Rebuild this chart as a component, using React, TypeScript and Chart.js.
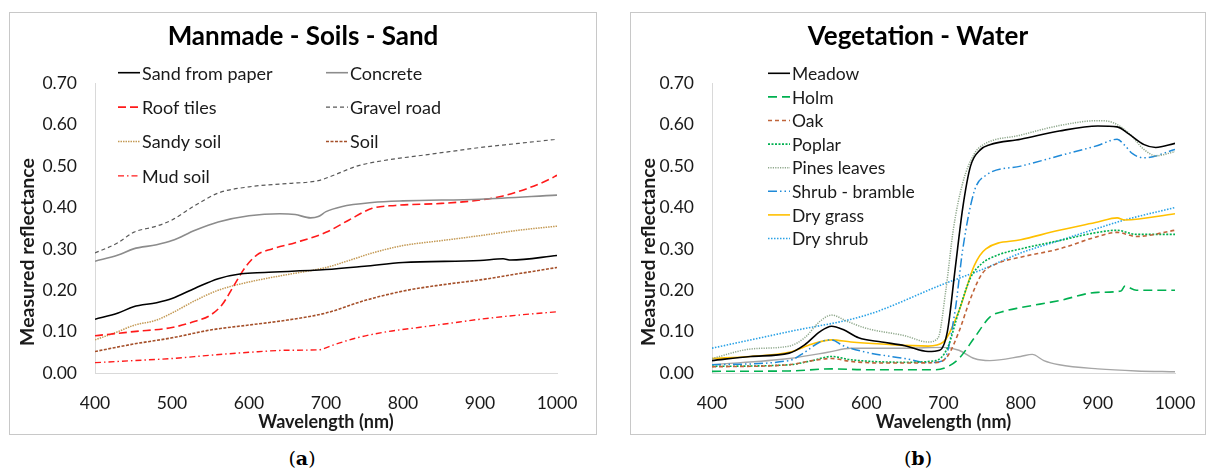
import { useEffect, useRef } from "react";
import { Chart, registerables } from "chart.js";

Chart.register(...registerables);

// ---------- Panel (a): Manmade - Soils - Sand ----------
const sandFromPaperNm = [400, 430, 450, 480, 500, 530, 560, 590, 620, 700, 750, 800, 900, 930, 940, 1000];
const sandFromPaperR = [0.13, 0.145, 0.16, 0.17, 0.18, 0.205, 0.228, 0.24, 0.243, 0.25, 0.258, 0.267, 0.272, 0.276, 0.273, 0.284];

const concreteNm = [400, 430, 450, 480, 500, 530, 560, 600, 640, 660, 680, 690, 700, 720, 760, 800, 900, 1000];
const concreteR = [0.27, 0.285, 0.3, 0.31, 0.32, 0.345, 0.365, 0.38, 0.385, 0.383, 0.375, 0.378, 0.39, 0.402, 0.412, 0.416, 0.42, 0.43];

const roofTilesNm = [400, 450, 500, 530, 550, 565, 580, 595, 610, 630, 660, 700, 730, 760, 790, 850, 900, 930, 960, 990, 1000];
const roofTilesR = [0.09, 0.1, 0.11, 0.125, 0.14, 0.165, 0.21, 0.255, 0.285, 0.3, 0.315, 0.34, 0.37, 0.398, 0.405, 0.41, 0.418, 0.428, 0.445, 0.468, 0.478];

const gravelRoadNm = [400, 430, 450, 480, 500, 530, 560, 600, 650, 690, 710, 740, 780, 820, 860, 900, 950, 1000];
const gravelRoadR = [0.29, 0.315, 0.34, 0.355, 0.37, 0.405, 0.435, 0.45, 0.458, 0.465, 0.478, 0.5, 0.515, 0.525, 0.535, 0.545, 0.555, 0.565];

const sandySoilNm = [400, 430, 450, 480, 500, 530, 560, 600, 650, 700, 730, 760, 800, 850, 900, 950, 1000];
const sandySoilR = [0.08, 0.1, 0.115, 0.128, 0.145, 0.175, 0.2, 0.22, 0.238, 0.255, 0.272, 0.29, 0.308, 0.32, 0.332, 0.345, 0.355];

const soilNm = [400, 450, 500, 550, 600, 650, 700, 750, 800, 850, 900, 950, 1000];
const soilR = [0.052, 0.07, 0.085, 0.104, 0.116, 0.128, 0.145, 0.175, 0.198, 0.213, 0.225, 0.24, 0.255];

const mudSoilNm = [400, 450, 500, 550, 600, 650, 690, 710, 740, 780, 820, 860, 900, 950, 1000];
const mudSoilR = [0.025, 0.03, 0.035, 0.043, 0.05, 0.055, 0.056, 0.068, 0.085, 0.1, 0.11, 0.12, 0.13, 0.14, 0.148];

// ---------- Panel (b): Vegetation - Water ----------
const meadowNm = [400, 450, 500, 520, 540, 555, 570, 590, 620, 650, 680, 695, 705, 715, 725, 735, 748, 760, 800, 850, 900, 925, 940, 960, 975, 1000];
const meadowR = [0.03, 0.04, 0.048, 0.068, 0.1, 0.113, 0.105, 0.085, 0.075, 0.066, 0.052, 0.055, 0.1, 0.25, 0.4, 0.5, 0.54, 0.552, 0.565, 0.585, 0.597, 0.595, 0.578, 0.552, 0.545, 0.555];

const holmNm = [400, 500, 555, 600, 690, 705, 720, 740, 760, 780, 800, 850, 900, 930, 935, 950, 1000];
const holmR = [0.004, 0.005, 0.01, 0.008, 0.008, 0.015, 0.035, 0.085, 0.135, 0.15, 0.158, 0.175, 0.195, 0.198, 0.21, 0.2, 0.2];

const oakNm = [400, 500, 530, 555, 580, 620, 690, 705, 720, 735, 750, 770, 800, 850, 900, 925, 950, 1000];
const oakR = [0.015, 0.02, 0.03, 0.035, 0.028, 0.024, 0.025, 0.04, 0.1, 0.18, 0.24, 0.265, 0.28, 0.3, 0.33, 0.34, 0.33, 0.345];

const poplarNm = [400, 500, 530, 555, 580, 650, 690, 705, 720, 735, 750, 770, 800, 850, 900, 925, 950, 1000];
const poplarR = [0.016, 0.02, 0.03, 0.04, 0.032, 0.026, 0.03, 0.06, 0.15, 0.23, 0.265, 0.285, 0.3, 0.32, 0.34, 0.345, 0.335, 0.335];

const pinesLeavesNm = [400, 450, 500, 520, 540, 555, 575, 600, 650, 680, 693, 703, 713, 725, 740, 750, 800, 850, 900, 920, 940, 960, 975, 1000];
const pinesLeavesR = [0.035, 0.058, 0.065, 0.085, 0.125, 0.14, 0.125, 0.108, 0.09, 0.075, 0.085, 0.2, 0.35, 0.46, 0.53, 0.55, 0.575, 0.598, 0.61, 0.605, 0.58, 0.54, 0.525, 0.535];

const shrubBrambleNm = [400, 500, 520, 540, 555, 570, 600, 650, 680, 700, 715, 725, 740, 755, 800, 850, 900, 925, 935, 945, 960, 1000];
const shrubBrambleR = [0.02, 0.03, 0.05, 0.075, 0.08, 0.066, 0.05, 0.035, 0.025, 0.03, 0.15, 0.3, 0.44, 0.478, 0.5, 0.525, 0.55, 0.565, 0.55, 0.53, 0.52, 0.54];

const dryGrassNm = [400, 450, 500, 530, 555, 580, 620, 680, 700, 720, 740, 755, 800, 850, 900, 925, 935, 1000];
const dryGrassR = [0.035, 0.04, 0.05, 0.07, 0.08, 0.075, 0.07, 0.065, 0.075, 0.15, 0.26, 0.3, 0.322, 0.345, 0.365, 0.375, 0.37, 0.385];

const dryShrubNm = [400, 500, 600, 700, 750, 800, 850, 900, 935, 1000];
const dryShrubR = [0.06, 0.1, 0.14, 0.215, 0.25, 0.29, 0.32, 0.35, 0.37, 0.4];

const waterNm = [400, 500, 550, 580, 650, 700, 720, 740, 760, 800, 815, 830, 850, 900, 950, 1000];
const waterR = [0.02, 0.035, 0.05, 0.06, 0.06, 0.062, 0.055, 0.035, 0.03, 0.04, 0.045, 0.03, 0.02, 0.01, 0.005, 0.003];

const yTickValues = [0, 0.1, 0.2, 0.3, 0.4, 0.5, 0.6, 0.7];
const xTickValues = [400, 500, 600, 700, 800, 900, 1000];

const FONT = "Lato, 'Open Sans', sans-serif";
const INK = "#1a1a1a";
const AXIS_LINE = "#d9d9d9";

type Series = {
  label: string;
  nm: number[];
  r: number[];
  color: string;
  dash: number[];
  width: number;
  inKey?: boolean;
};

const toPoints = (nm: number[], r: number[]) => nm.map((x, i) => ({ x, y: r[i] }));

const panelA: Series[] = [
  { label: "Sand from paper", nm: sandFromPaperNm, r: sandFromPaperR, color: "#000000", dash: [], width: 1.6 },
  { label: "Concrete", nm: concreteNm, r: concreteR, color: "#8c8c8c", dash: [], width: 1.6 },
  { label: "Roof tiles", nm: roofTilesNm, r: roofTilesR, color: "#ff1a1a", dash: [8, 4], width: 1.6 },
  { label: "Gravel road", nm: gravelRoadNm, r: gravelRoadR, color: "#595959", dash: [4, 3], width: 1.2 },
  { label: "Sandy soil", nm: sandySoilNm, r: sandySoilR, color: "#c49a55", dash: [1.5, 1], width: 1.5 },
  { label: "Soil", nm: soilNm, r: soilR, color: "#a5502a", dash: [3, 1.5], width: 1.6 },
  { label: "Mud soil", nm: mudSoilNm, r: mudSoilR, color: "#ff1a1a", dash: [6, 3, 1.5, 3], width: 1.4 },
];

const panelB: Series[] = [
  { label: "Meadow", nm: meadowNm, r: meadowR, color: "#000000", dash: [], width: 1.6 },
  { label: "Holm", nm: holmNm, r: holmR, color: "#00b050", dash: [9, 5], width: 1.6 },
  { label: "Oak", nm: oakNm, r: oakR, color: "#c0643a", dash: [4, 3], width: 1.6 },
  { label: "Poplar", nm: poplarNm, r: poplarR, color: "#00b050", dash: [2, 1.5], width: 1.6 },
  { label: "Pines leaves", nm: pinesLeavesNm, r: pinesLeavesR, color: "#8fa88c", dash: [1.2, 1.2], width: 1.5 },
  { label: "Shrub - bramble", nm: shrubBrambleNm, r: shrubBrambleR, color: "#1f8ad8", dash: [9, 3, 1.5, 3, 1.5, 3], width: 1.5 },
  { label: "Dry grass", nm: dryGrassNm, r: dryGrassR, color: "#ffc000", dash: [], width: 1.6 },
  { label: "Dry shrub", nm: dryShrubNm, r: dryShrubR, color: "#2aa2e6", dash: [1.5, 1.5], width: 1.6 },
  { label: "Water", nm: waterNm, r: waterR, color: "#a6a6a6", dash: [], width: 1.4, inKey: false },
];

// Line key drawn inside the plot region, laid out in rows/columns
const lineKey = {
  id: "lineKey",
  afterDraw(chart: any, _args: any, opts: any) {
    const { ctx } = chart;
    const cols: number[] = opts.colX;
    ctx.save();
    ctx.font = `${opts.fontSize}px ${FONT}`;
    ctx.textBaseline = "middle";
    ctx.textAlign = "left";
    let k = 0;
    chart.data.datasets.forEach((ds: any) => {
      if (ds.inKey === false) return;
      const col = k % cols.length;
      const row = Math.floor(k / cols.length);
      const x = cols[col];
      const y = opts.rowY + row * opts.rowGap;
      ctx.beginPath();
      ctx.setLineDash(ds.borderDash || []);
      ctx.strokeStyle = ds.borderColor;
      ctx.lineWidth = ds.borderWidth;
      ctx.moveTo(x, y);
      ctx.lineTo(x + opts.sample, y);
      ctx.stroke();
      ctx.setLineDash([]);
      ctx.fillStyle = INK;
      ctx.fillText(ds.label, x + opts.sample + 2, y + 1);
      k++;
    });
    ctx.restore();
  },
};

// Rotated value-axis caption, placed beside the y ticks
const sideCaption = {
  id: "sideCaption",
  afterDraw(chart: any, _args: any, opts: any) {
    const { ctx } = chart;
    ctx.save();
    ctx.translate(opts.x, opts.y);
    ctx.rotate(-Math.PI / 2);
    ctx.font = `bold ${opts.fontSize}px ${FONT}`;
    ctx.fillStyle = INK;
    ctx.textAlign = "center";
    ctx.textBaseline = "middle";
    ctx.fillText(opts.text, 0, 0);
    ctx.restore();
  },
};

type PanelProps = {
  title: string;
  series: Series[];
  width: number;
  height: number;
  yAxisWidth: number;
  padRight: number;
  keyOpts: { colX: number[]; rowY: number; rowGap: number; sample: number; fontSize: number };
};

function SpectrumPanel({ title, series, width, height, yAxisWidth, padRight, keyOpts }: PanelProps) {
  const ref = useRef<HTMLCanvasElement | null>(null);

  useEffect(() => {
    if (!ref.current) return;
    const chart = new Chart(ref.current, {
      type: "line",
      data: {
        datasets: series.map((s) => ({
          label: s.label,
          data: toPoints(s.nm, s.r),
          borderColor: s.color,
          backgroundColor: s.color,
          borderDash: s.dash,
          borderWidth: s.width,
          pointRadius: 0,
          fill: false,
          cubicInterpolationMode: "monotone",
          inKey: s.inKey,
        })) as any,
      },
      options: {
        animation: false,
        responsive: false,
        events: [],
        layout: { padding: 0 },
        plugins: {
          legend: { display: false },
          tooltip: { enabled: false },
          title: {
            display: true,
            text: title,
            color: "#000000",
            font: { family: FONT, size: 26, weight: "bold" },
            padding: { top: 8, bottom: 31.8 - 0.6 },
          },
          lineKey: keyOpts,
          sideCaption: { text: "Measured reflectance", x: 18, y: 239, fontSize: 19.5 },
        } as any,
        scales: {
          x: {
            type: "linear",
            min: 400,
            max: 1000,
            afterBuildTicks: (scale: any) => {
              scale.ticks = xTickValues.map((value) => ({ value }));
            },
            afterFit: (scale: any) => {
              scale.height = height - 360;
              scale.paddingLeft = 0;
              scale.paddingRight = padRight;
            },
            grid: { display: false, drawTicks: false },
            border: { display: true, color: AXIS_LINE, width: 1 },
            ticks: {
              color: INK,
              padding: 19.5,
              font: { family: FONT, size: 17.5 },
              maxRotation: 0,
              callback: (v: any) => String(v),
            },
            title: {
              display: true,
              text: "Wavelength (nm)",
              color: INK,
              font: { family: FONT, size: 18, weight: "bold" },
              padding: { top: 0, bottom: 1.5 },
            },
          },
          y: {
            type: "linear",
            min: 0,
            max: 0.7,
            afterBuildTicks: (scale: any) => {
              scale.ticks = yTickValues.map((value) => ({ value }));
            },
            afterFit: (scale: any) => {
              scale.width = yAxisWidth;
              scale.paddingTop = 0;
              scale.paddingBottom = 0;
            },
            grid: { display: false, drawTicks: false },
            border: { display: true, color: AXIS_LINE, width: 1 },
            ticks: {
              color: INK,
              padding: 18,
              font: { family: FONT, size: 17.5 },
              callback: (v: any) => Number(v).toFixed(2),
            },
          },
        },
      },
      plugins: [lineKey as any, sideCaption as any],
    });
    return () => chart.destroy();
  }, [title, series, width, height, yAxisWidth, padRight, keyOpts]);

  return <canvas ref={ref} width={width} height={height} style={{ display: "block", width, height }} />;
}

const keyA = { colX: [108, 316], rowY: 59.7, rowGap: 34.4, sample: 22, fontSize: 18 };
const keyB = { colX: [137], rowY: 60.3, rowGap: 23.6, sample: 22, fontSize: 17.5 };

const PANEL_H = 421;

const boxStyle = (left: number, width: number): React.CSSProperties => ({
  position: "absolute",
  left,
  top: 12,
  width,
  height: PANEL_H,
  border: "1px solid #c8c8c8",
  background: "#ffffff",
});

const captionStyle = (center: number): React.CSSProperties => ({
  position: "absolute",
  left: center - 30,
  width: 60,
  top: 446,
  textAlign: "center",
  fontFamily: "'DejaVu Serif', 'Liberation Serif', serif",
  fontSize: 19,
  color: "#000000",
  lineHeight: "24px",
});

export default function App() {
  return (
    <div style={{ position: "relative", width: 1206, height: 472 }}>
      <div style={{ position: "fixed", left: 0, top: 0, width: 1206, height: 472, background: "#ffffff", overflow: "hidden" }}>
        <div style={boxStyle(9, 586)}>
          <SpectrumPanel
            title="Manmade - Soils - Sand"
            series={panelA}
            width={586}
            height={PANEL_H}
            yAxisWidth={85}
            padRight={39}
            keyOpts={keyA}
          />
        </div>
        <div style={boxStyle(630, 574)}>
          <SpectrumPanel
            title="Vegetation - Water"
            series={panelB}
            width={574}
            height={PANEL_H}
            yAxisWidth={81}
            padRight={30}
            keyOpts={keyB}
          />
        </div>
        <div style={captionStyle(302)}>
          (<b>a</b>)
        </div>
        <div style={captionStyle(918)}>
          (<b>b</b>)
        </div>
      </div>
    </div>
  );
}
